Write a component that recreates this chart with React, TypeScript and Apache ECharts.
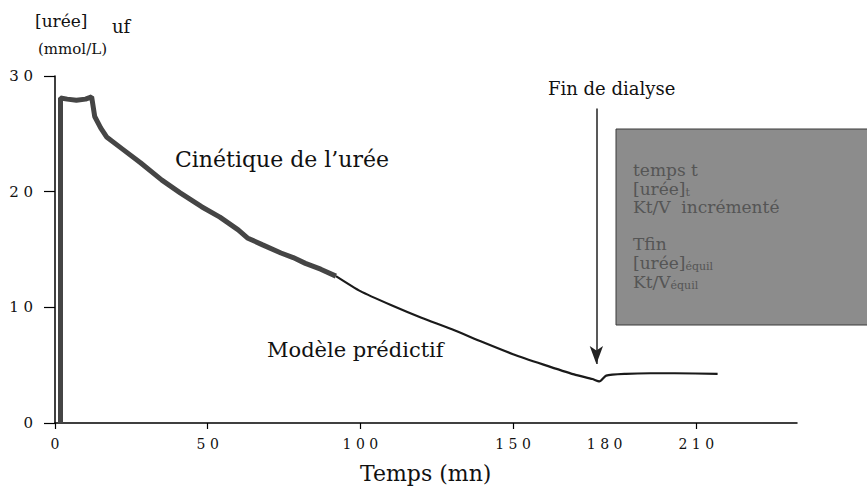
import React, { useEffect, useRef } from "react";
import * as echarts from "echarts";

// Measured urea kinetics (thick curve)
const measuredTime = [1.8, 1.8, 4, 7, 10, 12, 13, 15, 17, 22, 28, 35, 41, 48, 54, 60, 63, 68, 74, 78, 82, 87, 92];
const measuredUrea = [0, 28.1, 28.0, 27.9, 28.0, 28.2, 26.5, 25.5, 24.7, 23.7, 22.5, 21.0, 19.9, 18.7, 17.8, 16.7, 16.0, 15.4, 14.7, 14.3, 13.8, 13.3, 12.7];

// Predictive model (thin curve)
const modelTime = [92, 100, 110, 120, 130, 140, 150, 160, 170, 176, 178.3, 180.5, 187, 195, 203, 217];
const modelUrea = [12.7, 11.4, 10.2, 9.1, 8.1, 7.0, 5.95, 5.05, 4.2, 3.8, 3.6, 4.1, 4.25, 4.3, 4.3, 4.25];

// Axis ticks / labels
const xLabelValues = [0, 50, 100, 150, 180, 210];
const xTickValues = [0, 50, 100, 150, 210];

// End of dialysis arrow (time, urea start, urea tip)
const endDialysisTime = 177.3;
const arrowFrom = 27.2;
const arrowTo = 5.1;

// Text lines of the grey box
const boxLines = [
  "temps t",
  "[urée]{s|t}",
  "Kt/V  incrémenté",
  "",
  "Tfin",
  "[urée]{s|équil}",
  "Kt/V{s|équil}",
];

const spaced = (v: number) => String(v).split("").join(" ");

export default function App() {
  const ref = useRef<HTMLDivElement>(null);

  useEffect(() => {
    if (!ref.current) return;
    const chart = echarts.init(ref.current, null, { renderer: "svg" });
    const serif = "DejaVu Serif";
    const measured = measuredTime.map((t, i) => [t, measuredUrea[i]]);
    const model = modelTime.map((t, i) => [t, modelUrea[i]]);
    const boxTextColor = "#555555";

    const boxTexts = boxLines
      .map((line, i) => ({ line, i }))
      .filter((d) => d.line !== "")
      .map((d) => ({
        type: "text",
        z: 20,
        x: 633,
        y: 161 + d.i * 18.6,
        style: {
          text: d.line,
          fontFamily: serif,
          fontSize: 17,
          lineHeight: 18,
          fill: boxTextColor,
          rich: {
            s: { fontSize: 11, lineHeight: 18, fontFamily: serif, fill: boxTextColor, verticalAlign: "bottom" },
          },
        },
      }));

    chart.setOption({
      animation: false,
      backgroundColor: "#ffffff",
      grid: { left: 55, top: 76, width: 742, height: 347 },
      xAxis: {
        type: "value",
        min: 0,
        max: 243,
        splitLine: { show: false },
        axisLine: { show: true, lineStyle: { color: "#000", width: 1.5 } },
        axisTick: {
          show: true,
          customValues: xTickValues,
          length: 6,
          lineStyle: { color: "#000", width: 1.2 },
        },
        axisLabel: {
          customValues: xLabelValues,
          formatter: spaced,
          fontFamily: serif,
          fontSize: 14,
          color: "#111",
          margin: 14,
        },
      },
      yAxis: {
        type: "value",
        min: 0,
        max: 30,
        interval: 10,
        splitLine: { show: false },
        axisLine: { show: true, lineStyle: { color: "#000", width: 1.5 } },
        axisTick: { show: true, length: 11, lineStyle: { color: "#000", width: 1.2 } },
        axisLabel: {
          formatter: spaced,
          fontFamily: serif,
          fontSize: 15,
          color: "#111",
          margin: 22,
        },
      },
      series: [
        {
          type: "line",
          data: measured,
          showSymbol: false,
          lineStyle: { color: "#454545", width: 5 },
          z: 3,
        },
        {
          type: "line",
          data: model,
          showSymbol: false,
          smooth: 0.2,
          lineStyle: { color: "#1a1a1a", width: 2.2 },
          z: 2,
          markLine: {
            silent: true,
            symbol: ["none", "arrow"],
            symbolSize: [10, 18],
            label: { show: false },
            lineStyle: { color: "#222", width: 1.5, type: "solid" },
            itemStyle: { color: "#555" },
            data: [
              [
                { coord: [endDialysisTime, arrowFrom] },
                { coord: [endDialysisTime, arrowTo] },
              ],
            ],
          },
        },
      ],
      graphic: [
        { type: "text", left: 35, top: 12, style: { text: "[urée]", fontFamily: serif, fontSize: 17, fill: "#111" } },
        { type: "text", left: 112, top: 17, style: { text: "uf", fontFamily: serif, fontSize: 18, fill: "#111" } },
        { type: "text", left: 38, top: 41, style: { text: "(mmol/L)", fontFamily: serif, fontSize: 15, fill: "#111" } },
        { type: "text", left: 175, top: 148, style: { text: "Cinétique de l’urée", fontFamily: serif, fontSize: 22, fill: "#111" } },
        { type: "text", left: 267, top: 339, style: { text: "Modèle prédictif", fontFamily: serif, fontSize: 21, fill: "#111" } },
        { type: "text", left: 360, top: 462, style: { text: "Temps (mn)", fontFamily: serif, fontSize: 22, fill: "#111" } },
        { type: "text", left: 548, top: 79, style: { text: "Fin de dialyse", fontFamily: serif, fontSize: 18, fill: "#111" } },
        {
          type: "rect",
          z: 10,
          shape: { x: 616, y: 129, width: 260, height: 196 },
          style: { fill: "#8c8c8c", stroke: "#3a3a3a", lineWidth: 1 },
        },
        ...boxTexts,
      ],
    });

    return () => chart.dispose();
  }, []);

  return (
    <div
      ref={ref}
      style={{ position: "fixed", left: 0, top: 0, width: 867, height: 490, background: "#fff" }}
    />
  );
}
